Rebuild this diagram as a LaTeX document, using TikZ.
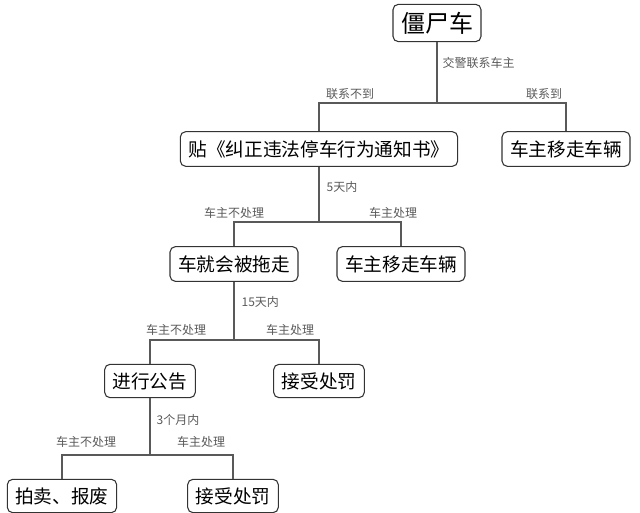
\documentclass[tikz,border=0pt]{standalone}
\usepackage{fontspec}
\setmainfont{Noto Sans CJK SC}
\usetikzlibrary{positioning}
\tikzset{
  box/.style={draw=black!80, thick, rounded corners=4pt, fill=white, minimum height=26pt, inner xsep=6pt, font=\fontsize{14}{16}\selectfont},
  lab/.style={text=black!65, font=\fontsize{9}{11}\selectfont, inner sep=1pt},
  link/.style={draw=black!65, thick}
}
\begin{document}
\begin{tikzpicture}[x=0.75pt, y=-0.75pt]
    \useasboundingbox (0,0) rectangle (640,513);
    % nodes
    \node[box, minimum height=28pt, font=\fontsize{18}{20}\selectfont] (zombie) at (437,23) {僵尸车};
    \node[box] (notice) at (319,149) {贴《纠正违法停车行为通知书》};
    \node[box] (moveA) at (566,149) {车主移走车辆};
    \node[box] (tow) at (234,264) {车就会被拖走};
    \node[box] (moveB) at (401,264) {车主移走车辆};
    \node[box, minimum height=25pt] (announce) at (150,381) {进行公告};
    \node[box, minimum height=25pt] (penaltyA) at (319,381) {接受处罚};
    \node[box, minimum height=25pt] (auction) at (62,496) {拍卖、报废};
    \node[box, minimum height=25pt] (penaltyB) at (233,496) {接受处罚};
    % junctions
    \coordinate (j1) at (437,103);
    \coordinate (j2) at (319,222);
    \coordinate (j3) at (234,340);
    \coordinate (j4) at (150,455);
    % connectors
    \draw[link] (zombie) -- (j1);
    \draw[link] (notice.north) |- (j1) -| (moveA.north);
    \draw[link] (notice) -- (j2);
    \draw[link] (tow.north) |- (j2) -| (moveB.north);
    \draw[link] (tow) -- (j3);
    \draw[link] (announce.north) |- (j3) -| (penaltyA.north);
    \draw[link] (announce) -- (j4);
    \draw[link] (auction.north) |- (j4) -| (penaltyB.north);
    % labels
    \node[lab, anchor=west] (t1) at (441,63) {交警联系车主};
    \node[lab] (n1) at (350,94) {联系不到};
    \node[lab] (y1) at (544,94) {联系到};
    \node[lab, anchor=west] (t2) at (325,187) {5天内};
    \node[lab] (n2) at (234,213) {车主不处理};
    \node[lab] (y2) at (393,213) {车主处理};
    \node[lab, anchor=west] (t3) at (240,302) {15天内};
    \node[lab] (n3) at (176,330) {车主不处理};
    \node[lab] (y3) at (290,330) {车主处理};
    \node[lab, anchor=west] (t4) at (155,420) {3个月内};
    \node[lab] (n4) at (86,442) {车主不处理};
    \node[lab] (y4) at (201,442) {车主处理};
\end{tikzpicture}
\end{document}
